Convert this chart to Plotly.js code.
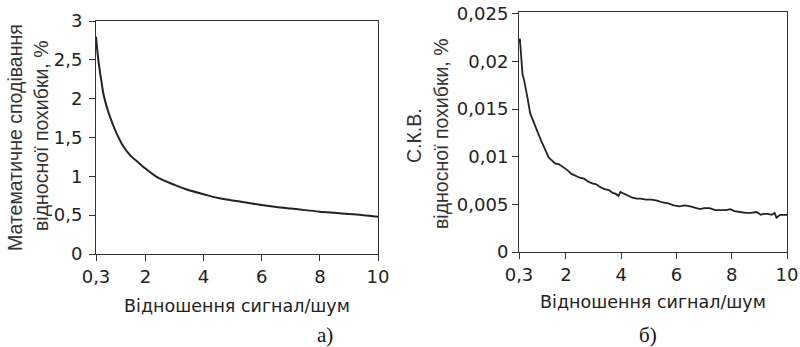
<!DOCTYPE html>
<html><head><meta charset="utf-8">
<script src="https://cdn.plot.ly/plotly-3.0.1.min.js"></script>
<style>html,body{margin:0;padding:0;background:#fff;}#chart{width:800px;height:347px;}</style>
</head><body><div id="chart"></div>
<script>
// Left panel (а): mathematical expectation of relative error, %
const snrA = [0.3, 0.35, 0.4, 0.45, 0.5, 0.55, 0.65, 0.75, 0.9, 1.0, 1.25, 1.5, 1.75, 2.0, 2.4, 3.0, 3.5, 4.0, 4.5, 5.0, 5.5, 6.0, 6.5, 7.0, 7.5, 8.0, 8.5, 9.0, 9.5, 10.0];
const meanErr = [2.80, 2.60, 2.44, 2.31, 2.19, 2.07, 1.92, 1.80, 1.65, 1.56, 1.38, 1.26, 1.18, 1.10, 0.99, 0.89, 0.82, 0.77, 0.72, 0.69, 0.66, 0.63, 0.605, 0.585, 0.565, 0.545, 0.53, 0.515, 0.50, 0.48];

// Right panel (б): RMS of relative error, %
const snrB = [0.3, 0.33, 0.38, 0.43, 0.48, 0.55, 0.62, 0.7, 0.8, 0.9, 1.0, 1.1, 1.2, 1.3, 1.38, 1.5, 1.6, 1.75, 1.9, 2.05, 2.2, 2.35, 2.5, 2.65, 2.8, 2.95, 3.1, 3.25, 3.4, 3.55, 3.7, 3.8, 3.9, 3.97, 4.1, 4.25, 4.4, 4.55, 4.7, 4.9, 5.1, 5.3, 5.5, 5.7, 5.9, 6.1, 6.3, 6.5, 6.7, 6.85, 7.0, 7.2, 7.4, 7.6, 7.8, 7.95, 8.1, 8.3, 8.5, 8.7, 8.9, 9.05, 9.15, 9.3, 9.45, 9.55, 9.62, 9.75, 9.9, 10.0];
const rmsErr = [0.0220, 0.0224, 0.0205, 0.0186, 0.0181, 0.0172, 0.0160, 0.0146, 0.0138, 0.0131, 0.0124, 0.0117, 0.0110, 0.0104, 0.0099, 0.0096, 0.0093, 0.0092, 0.0089, 0.0086, 0.0082, 0.0080, 0.0078, 0.0077, 0.0074, 0.0072, 0.0071, 0.0068, 0.0066, 0.0065, 0.0062, 0.0061, 0.0059, 0.0063, 0.0061, 0.0059, 0.0057, 0.0056, 0.0056, 0.0055, 0.0055, 0.0054, 0.0052, 0.0051, 0.0049, 0.0048, 0.0049, 0.0048, 0.0046, 0.0045, 0.0046, 0.0046, 0.0044, 0.0044, 0.0044, 0.0045, 0.0043, 0.0042, 0.0041, 0.0041, 0.0042, 0.0039, 0.0040, 0.0040, 0.0039, 0.0041, 0.0036, 0.0039, 0.0039, 0.0039];

const xTicks = [0.3, 2, 4, 6, 8, 10];
const yTicksA = [0, 0.5, 1, 1.5, 2, 2.5, 3];
const yTicksB = [0, 0.005, 0.01, 0.015, 0.02, 0.025];
const xTitle = 'Відношення сигнал/шум';
const yTitleA = ['Математичне сподівання', 'відносної похибки, %'];
const yTitleB = ['С.К.В.', 'відносної похибки, %'];
const panelLabels = ['а)', 'б)'];

const lineCol = '#222';
const tickFont = {family: 'DejaVu Sans, sans-serif', size: 18, color: '#222'};
const titleFont = {family: 'DejaVu Sans, sans-serif', size: 17.5, color: '#222'};
const yTitleFont = {family: 'Liberation Sans, Arial, sans-serif', size: 19.5, color: '#333'};

const axBase = {
  showgrid: false, zeroline: false, showline: true, mirror: true,
  linecolor: '#333', linewidth: 1, ticks: 'outside', ticklen: 6, tickcolor: '#333', tickwidth: 1,
  tickfont: tickFont
};

const data = [
  {x: snrA, y: meanErr, type: 'scatter', mode: 'lines', line: {color: lineCol, width: 2, shape: 'spline', smoothing: 0.8}, xaxis: 'x', yaxis: 'y', hoverinfo: 'skip'},
  {x: snrB, y: rmsErr, type: 'scatter', mode: 'lines', line: {color: lineCol, width: 1.8}, xaxis: 'x2', yaxis: 'y2', hoverinfo: 'skip'}
];

const layout = {
  width: 800, height: 347,
  margin: {l: 0, r: 0, t: 0, b: 0},
  paper_bgcolor: '#fff', plot_bgcolor: '#fff',
  showlegend: false,
  separators: ', ',
  xaxis: Object.assign({}, axBase, {domain: [96/800, 378/800], range: [0.3, 10], tickvals: xTicks,
    anchor: 'y', title: {text: xTitle, font: titleFont, standoff: 14}}),
  yaxis: Object.assign({}, axBase, {domain: [93/347, 326/347], range: [0, 3], tickvals: yTicksA, anchor: 'x', ticklabelstandoff: 3}),
  xaxis2: Object.assign({}, axBase, {domain: [519/800, 787/800], range: [0.3, 10], tickvals: xTicks,
    anchor: 'y2', title: {text: xTitle, font: titleFont, standoff: 12}}),
  yaxis2: Object.assign({}, axBase, {domain: [95/347, 335/347], range: [0, 0.0252], tickvals: yTicksB, anchor: 'x2'}),
  annotations: [
    {text: yTitleA[0], xref: 'paper', yref: 'paper', x: 15/800, y: (347-138)/347, textangle: -90, showarrow: false, font: yTitleFont, xanchor: 'center', yanchor: 'middle'},
    {text: yTitleA[1], xref: 'paper', yref: 'paper', x: 41/800, y: (347-136)/347, textangle: -90, showarrow: false, font: yTitleFont, xanchor: 'center', yanchor: 'middle'},
    {text: yTitleB[0], xref: 'paper', yref: 'paper', x: 414/800, y: (347-135)/347, textangle: -90, showarrow: false, font: yTitleFont, xanchor: 'center', yanchor: 'middle'},
    {text: yTitleB[1], xref: 'paper', yref: 'paper', x: 441/800, y: (347-134)/347, textangle: -90, showarrow: false, font: yTitleFont, xanchor: 'center', yanchor: 'middle'},
    {text: panelLabels[0], xref: 'paper', yref: 'paper', x: 325/800, y: (347-335)/347, showarrow: false, font: {family: 'Liberation Serif, serif', size: 21, color: '#111'}, xanchor: 'center', yanchor: 'middle'},
    {text: panelLabels[1], xref: 'paper', yref: 'paper', x: 648/800, y: (347-335)/347, showarrow: false, font: {family: 'Liberation Serif, serif', size: 21, color: '#111'}, xanchor: 'center', yanchor: 'middle'}
  ]
};

Plotly.newPlot('chart', data, layout, {staticPlot: true, displayModeBar: false});
</script>
</body></html>
